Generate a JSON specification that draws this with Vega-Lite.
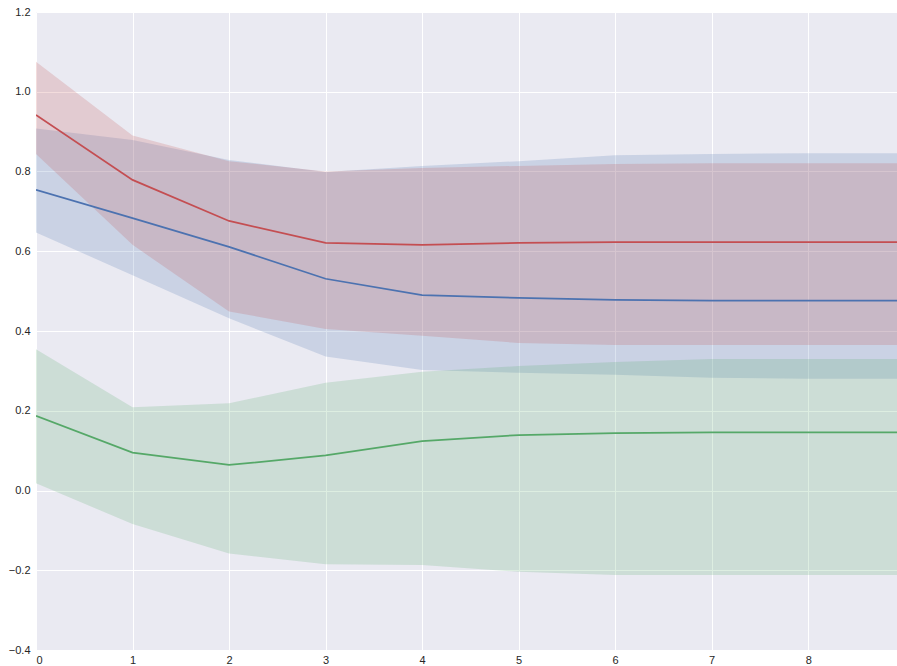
{
  "$schema": "https://vega.github.io/schema/vega-lite/v6.json",
  "width": 861,
  "height": 638,
  "autosize": "none",
  "padding": {"left": 36, "top": 12, "right": 0, "bottom": 16},
  "background": "white",
  "config": {
    "view": {"fill": "#EAEAF2", "stroke": null},
    "axis": {
      "domain": false,
      "ticks": false,
      "grid": true,
      "gridColor": "#FFFFFF",
      "gridWidth": 1,
      "labelColor": "#262626",
      "labelFont": "Liberation Sans",
      "labelFontSize": 11,
      "title": null
    }
  },
  "data": {
    "values": [
      {"x": 0, "s": "a", "m": 0.754, "lo": 0.647, "hi": 0.908},
      {"x": 1, "s": "a", "m": 0.683, "lo": 0.540, "hi": 0.879},
      {"x": 2, "s": "a", "m": 0.611, "lo": 0.432, "hi": 0.829},
      {"x": 3, "s": "a", "m": 0.531, "lo": 0.336, "hi": 0.799},
      {"x": 4, "s": "a", "m": 0.490, "lo": 0.302, "hi": 0.814},
      {"x": 5, "s": "a", "m": 0.483, "lo": 0.295, "hi": 0.826},
      {"x": 6, "s": "a", "m": 0.478, "lo": 0.290, "hi": 0.841},
      {"x": 7, "s": "a", "m": 0.476, "lo": 0.283, "hi": 0.844},
      {"x": 8, "s": "a", "m": 0.476, "lo": 0.280, "hi": 0.846},
      {"x": 9, "s": "a", "m": 0.476, "lo": 0.280, "hi": 0.846},
      {"x": 0, "s": "b", "m": 0.187, "lo": 0.018, "hi": 0.354},
      {"x": 1, "s": "b", "m": 0.095, "lo": -0.084, "hi": 0.209},
      {"x": 2, "s": "b", "m": 0.064, "lo": -0.158, "hi": 0.219},
      {"x": 3, "s": "b", "m": 0.088, "lo": -0.185, "hi": 0.270},
      {"x": 4, "s": "b", "m": 0.124, "lo": -0.187, "hi": 0.298},
      {"x": 5, "s": "b", "m": 0.139, "lo": -0.204, "hi": 0.312},
      {"x": 6, "s": "b", "m": 0.144, "lo": -0.212, "hi": 0.322},
      {"x": 7, "s": "b", "m": 0.146, "lo": -0.212, "hi": 0.330},
      {"x": 8, "s": "b", "m": 0.146, "lo": -0.212, "hi": 0.330},
      {"x": 9, "s": "b", "m": 0.146, "lo": -0.212, "hi": 0.330},
      {"x": 0, "s": "c", "m": 0.942, "lo": 0.844, "hi": 1.075},
      {"x": 1, "s": "c", "m": 0.779, "lo": 0.616, "hi": 0.890},
      {"x": 2, "s": "c", "m": 0.676, "lo": 0.449, "hi": 0.826},
      {"x": 3, "s": "c", "m": 0.621, "lo": 0.405, "hi": 0.800},
      {"x": 4, "s": "c", "m": 0.616, "lo": 0.388, "hi": 0.809},
      {"x": 5, "s": "c", "m": 0.621, "lo": 0.370, "hi": 0.814},
      {"x": 6, "s": "c", "m": 0.623, "lo": 0.365, "hi": 0.819},
      {"x": 7, "s": "c", "m": 0.623, "lo": 0.365, "hi": 0.821},
      {"x": 8, "s": "c", "m": 0.623, "lo": 0.365, "hi": 0.821},
      {"x": 9, "s": "c", "m": 0.623, "lo": 0.365, "hi": 0.821}
    ]
  },
  "encoding": {
    "x": {
      "field": "x",
      "type": "quantitative",
      "scale": {"domain": [0, 8.92], "nice": false, "zero": false},
      "axis": {"values": [0, 1, 2, 3, 4, 5, 6, 7, 8], "format": "d", "labelPadding": 4}
    },
    "color": {
      "field": "s",
      "type": "nominal",
      "scale": {"domain": ["a", "b", "c"], "range": ["#4C72B0", "#55A868", "#C44E52"]},
      "legend": null
    }
  },
  "layer": [
    {
      "mark": {"type": "area", "opacity": 0.2, "clip": true},
      "encoding": {
        "y": {
          "field": "lo",
          "type": "quantitative",
          "scale": {"domain": [-0.4, 1.2], "nice": false, "zero": false},
          "axis": {"values": [-0.4, -0.2, 0, 0.2, 0.4, 0.6, 0.8, 1.0, 1.2], "format": ".1f", "labelPadding": 6}
        },
        "y2": {"field": "hi"}
      }
    },
    {
      "mark": {"type": "line", "strokeWidth": 1.75, "clip": true},
      "encoding": {
        "y": {"field": "m", "type": "quantitative"}
      }
    }
  ]
}
